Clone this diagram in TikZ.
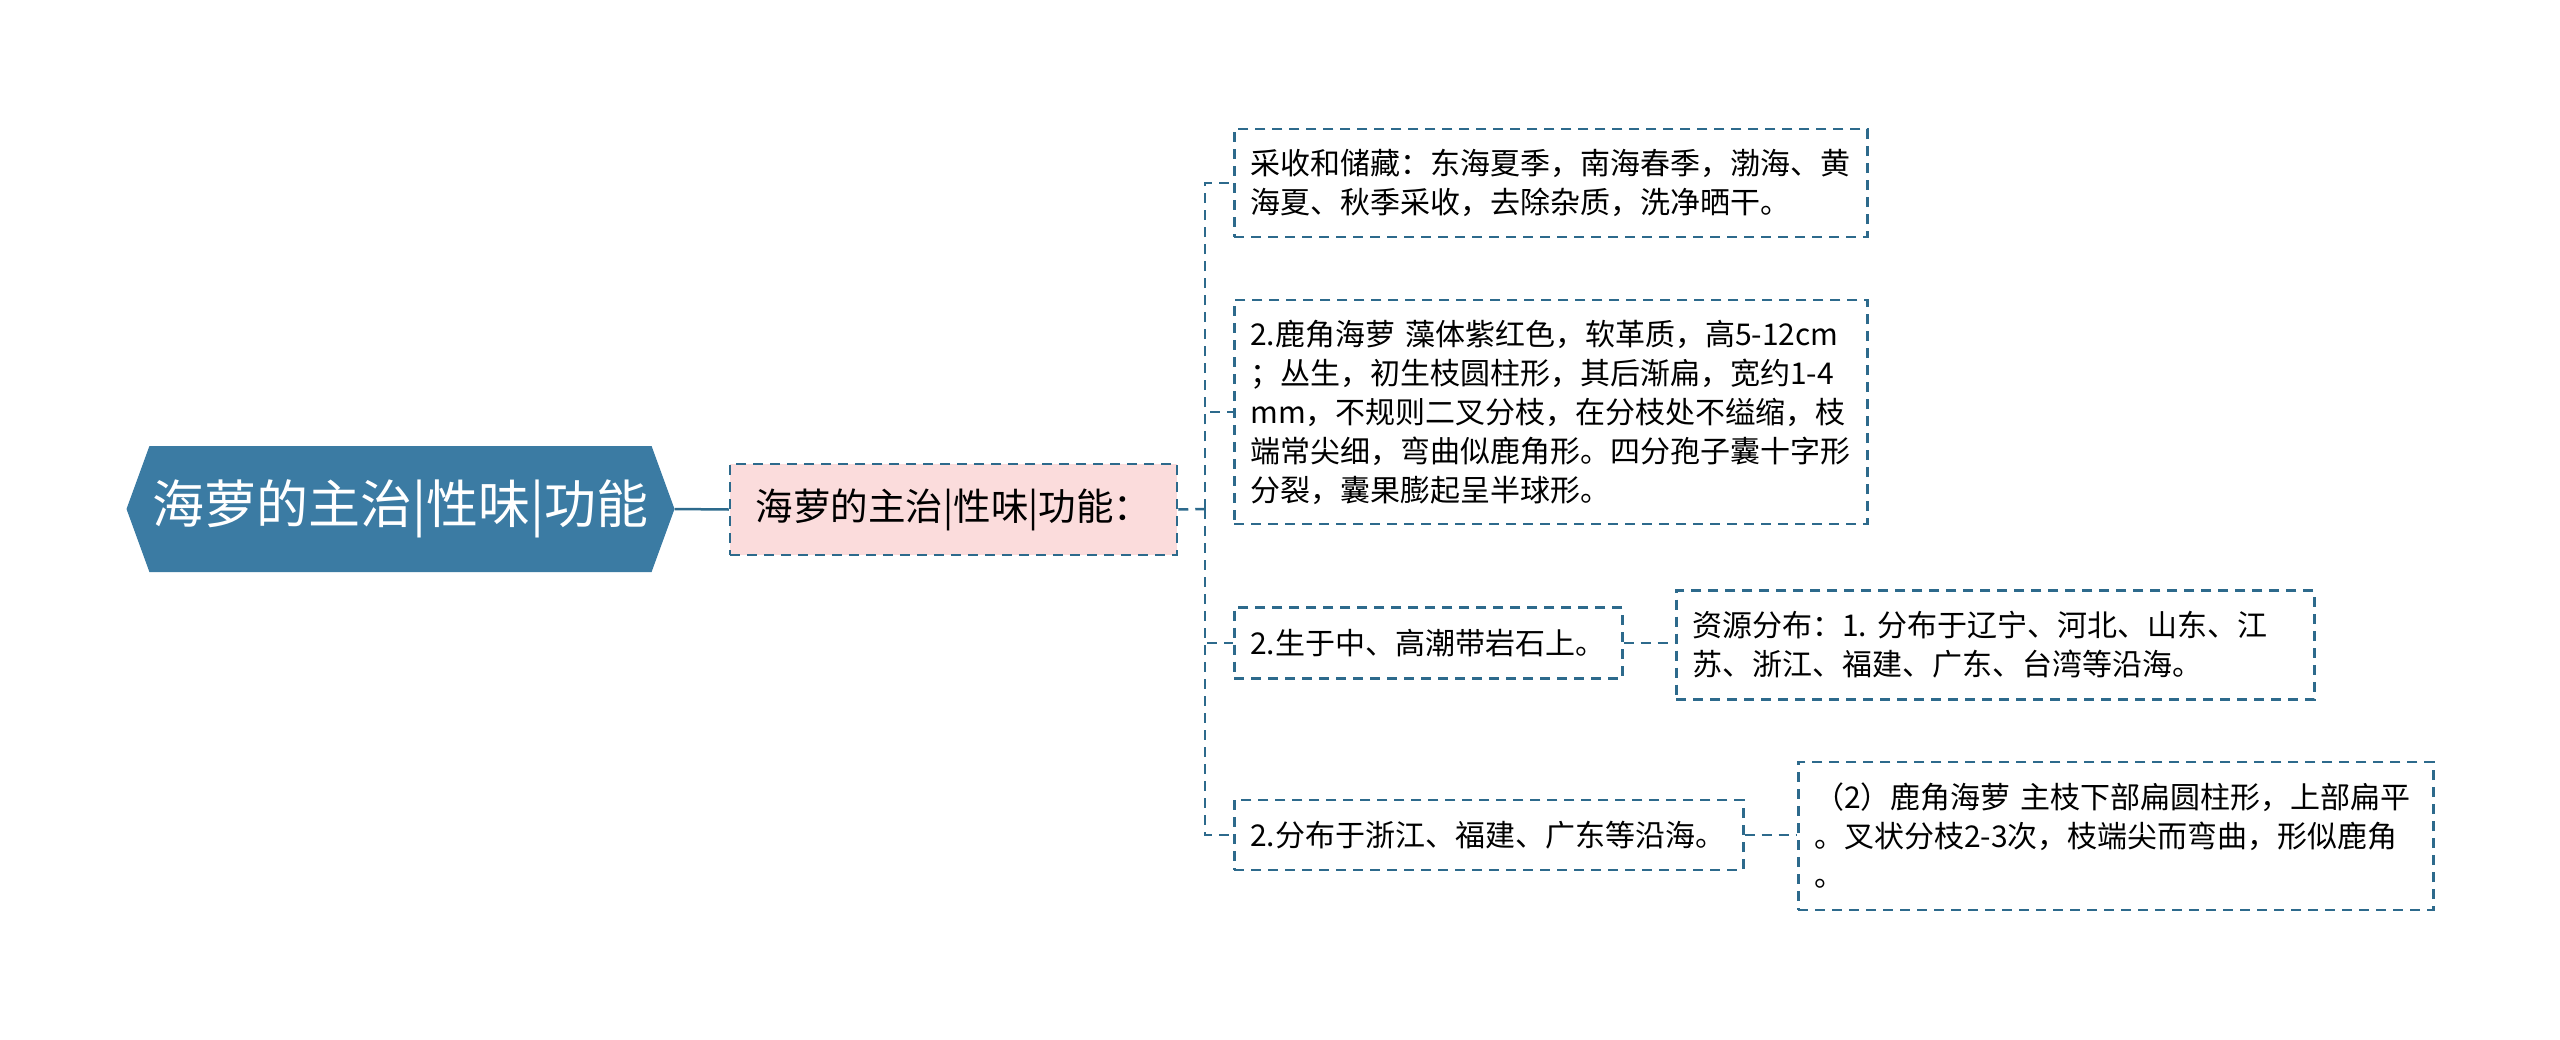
\documentclass[tikz,border=0pt]{standalone}
\usepackage{fontspec}
\setmainfont{Noto Sans CJK SC}
\usetikzlibrary{shapes.symbols}

\definecolor{rootblue}{HTML}{3B7BA3}
\definecolor{edgeblue}{HTML}{2D6A8C}
\definecolor{pinkfill}{HTML}{FBDCDC}

\begin{document}
\begin{tikzpicture}[x=1pt, y=-1pt,
    rootbox/.style={signal, signal to=west and east, signal pointer angle=140,
      fill=rootblue, text=white, minimum width=548pt, minimum height=126pt,
      inner sep=0pt, font=\fontsize{52}{62}\selectfont},
    subbox/.style={draw=edgeblue, line width=2.5pt, dash pattern=on 10pt off 7pt,
      fill=pinkfill, minimum width=447pt, minimum height=91pt,
      font=\fontsize{37.5}{45}\selectfont},
    leafbox/.style={draw=edgeblue, line width=2.5pt, dash pattern=on 10pt off 7pt,
      anchor=west, align=left, inner xsep=16pt, inner ysep=0pt,
      font=\fontsize{30}{39}\selectfont},
    link/.style={edgeblue, line width=2.5pt, dash pattern=on 10pt off 7pt}]
  \useasboundingbox (0,0) rectangle (2560,1039);

  \node [rootbox] (root) at (400.5,509) {海萝的主治|性味|功能};
  \node [subbox] (sub) at (953.5,509.5) {海萝的主治|性味|功能：};
  \draw [edgeblue, line width=2.5pt] (root.east) -- (sub.west);
  \coordinate (hub) at (1205,509);
  \draw [link] (sub.east) -- (hub);

  % first level
  \foreach \y/\tw/\h/\txt [count=\i] in {
      183/601/108/{采收和储藏：东海夏季，南海春季，渤海、黄\\海夏、秋季采收，去除杂质，洗净晒干。},
      412/601/224/{2.鹿角海萝~藻体紫红色，软革质，高5-12cm\\；丛生，初生枝圆柱形，其后渐扁，宽约1-4\\mm，不规则二叉分枝，在分枝处不缢缩，枝\\端常尖细，弯曲似鹿角形。四分孢子囊十字形\\分裂，囊果膨起呈半球形。},
      643/356/71/{2.生于中、高潮带岩石上。},
      835/477/70/{2.分布于浙江、福建、广东等沿海。}} {
    \node [leafbox, text width=\tw pt, minimum height=\h pt] (c\i) at (1233,\y) {\txt};
    \draw [link] (hub) |- (c\i.west);
  }

  % second level
  \node [leafbox, text width=606pt, minimum height=109pt] (g3) at (1675,645)
    {资源分布：1.~分布于辽宁、河北、山东、江\\苏、浙江、福建、广东、台湾等沿海。};
  \node [leafbox, text width=603pt, minimum height=148pt] (g4) at (1797,836)
    {（2）鹿角海萝~主枝下部扁圆柱形，上部扁平\\。叉状分枝2-3次，枝端尖而弯曲，形似鹿角\\。};
  \draw [link] (c3.east) -- (c3.east -| g3.west);
  \draw [link] (c4.east) -- (c4.east -| g4.west);
\end{tikzpicture}
\end{document}
